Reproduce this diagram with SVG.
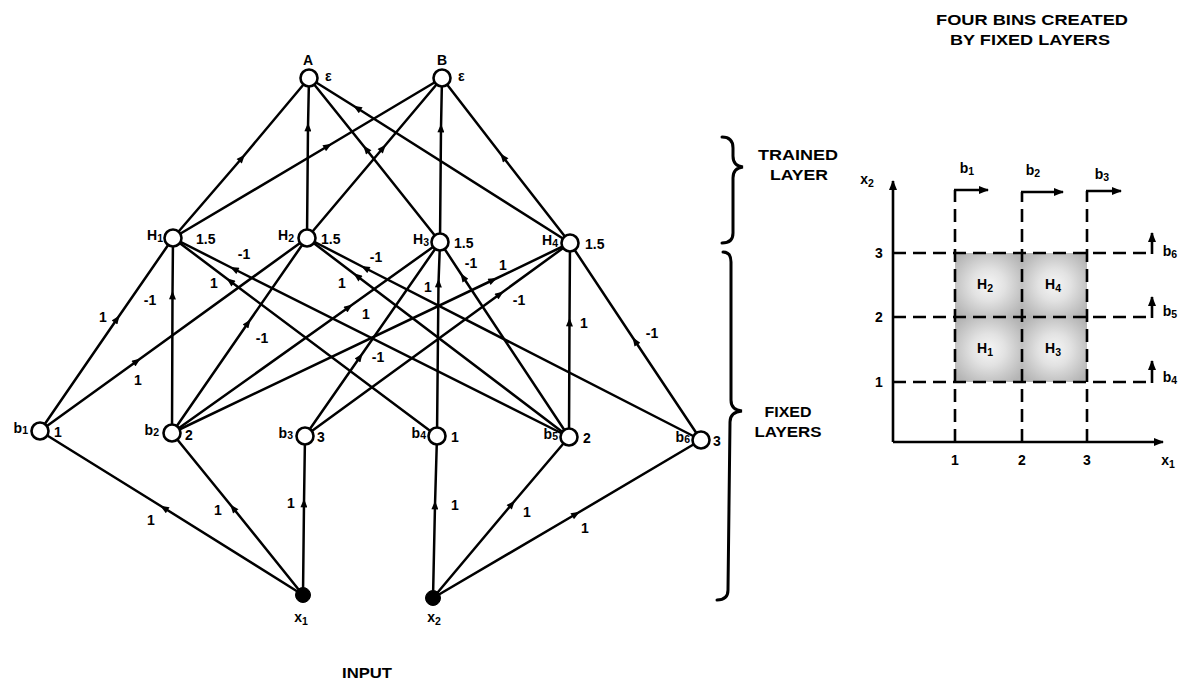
<svg xmlns="http://www.w3.org/2000/svg" width="1183" height="682" viewBox="0 0 1183 682">
<style>
text{font-family:"Liberation Sans",Arial,sans-serif;font-weight:bold;font-size:14px;fill:#000}
.e{stroke:#000;stroke-width:2.5;fill:none;marker-mid:url(#ah)}
.n{fill:#fff;stroke:#000;stroke-width:2.6}
.in{fill:#000;stroke:#000;stroke-width:1}
.d{stroke:#000;stroke-width:2.6;stroke-dasharray:13 7;fill:none}
.s{stroke:#000;stroke-width:2.6;fill:none}
.br{stroke:#000;stroke-width:3;fill:none;stroke-linecap:round}
.sub{font-size:10.5px}
</style>
<defs>
<marker id="ah" viewBox="0 0 10 8" refX="5" refY="4" markerWidth="10" markerHeight="7" orient="auto" markerUnits="userSpaceOnUse"><path d="M0,0 L10,4 L0,8 z" fill="#000"/></marker>
<marker id="ga" viewBox="0 0 10 8" refX="9" refY="4" markerWidth="12" markerHeight="8" orient="auto" markerUnits="userSpaceOnUse"><path d="M0,0 L10,4 L0,8 z" fill="#000"/></marker>
<radialGradient id="stip" cx="0.5" cy="0.5" r="0.62">
<stop offset="0" stop-color="#f6f6f6"/>
<stop offset="0.4" stop-color="#e2e2e2"/>
<stop offset="1" stop-color="#b4b4b4"/>
</radialGradient>
</defs>
<rect width="1183" height="682" fill="#fff"/>

<g id="connectors">
<path class="e" d="M173,238 L242,158 L309,78"/>
<path class="e" d="M173,238 L328,146 L442,78"/>
<path class="e" d="M307,238 L308,127 L309,78"/>
<path class="e" d="M307,238 L383,148 L442,78"/>
<path class="e" d="M440,242 L366,149 L309,78"/>
<path class="e" d="M440,242 L441,128 L442,78"/>
<path class="e" d="M570,243 L357,108 L309,78"/>
<path class="e" d="M570,243 L503,157 L442,78"/>

<path class="e" d="M40,431 L117,319 L173,238"/>
<path class="e" d="M40,431 L137,361 L307,238"/>
<path class="e" d="M172,433 L172.5,295 L173,238"/>
<path class="e" d="M172,433 L248,323 L307,238"/>
<path class="e" d="M172,433 L349,307 L440,242"/>
<path class="e" d="M172,433 L493,280 L570,243"/>
<path class="e" d="M305,436 L360,357 L440,242"/>
<path class="e" d="M305,436 L500,294 L570,243"/>
<path class="e" d="M437,436 L230,281 L173,238"/>
<path class="e" d="M437,436 L438.5,283 L440,242"/>
<path class="e" d="M569,437 L234,269 L173,238"/>
<path class="e" d="M569,437 L357,276 L307,238"/>
<path class="e" d="M569,437 L463,277 L440,242"/>
<path class="e" d="M569,437 L569.5,322 L570,243"/>
<path class="e" d="M701,440 L365,268 L307,238"/>
<path class="e" d="M701,440 L635,341 L570,243"/>

<path class="e" d="M303,595 L164,508 L40,431"/>
<path class="e" d="M303,595 L233,508 L172,433"/>
<path class="e" d="M303,595 L304,503 L305,436"/>
<path class="e" d="M433,598 L435,505 L437,436"/>
<path class="e" d="M433,598 L512,504 L569,437"/>
<path class="e" d="M433,598 L576,514 L701,440"/>
</g>

<g id="weights">
<text x="103" y="322" text-anchor="middle">1</text>
<text x="138" y="385" text-anchor="middle">1</text>
<text x="150" y="305" text-anchor="middle">-1</text>
<text x="262" y="343" text-anchor="middle">-1</text>
<text x="366" y="319" text-anchor="middle">1</text>
<text x="503" y="270" text-anchor="middle">1</text>
<text x="378" y="362" text-anchor="middle">-1</text>
<text x="519" y="305" text-anchor="middle">-1</text>
<text x="214" y="288" text-anchor="middle">1</text>
<text x="428" y="292" text-anchor="middle">1</text>
<text x="244" y="259" text-anchor="middle">-1</text>
<text x="342" y="288" text-anchor="middle">1</text>
<text x="471" y="268" text-anchor="middle">-1</text>
<text x="584" y="328" text-anchor="middle">1</text>
<text x="376" y="262" text-anchor="middle">-1</text>
<text x="652" y="338" text-anchor="middle">-1</text>
<text x="151" y="525" text-anchor="middle">1</text>
<text x="218" y="515" text-anchor="middle">1</text>
<text x="291" y="508" text-anchor="middle">1</text>
<text x="455" y="510" text-anchor="middle">1</text>
<text x="527" y="517" text-anchor="middle">1</text>
<text x="585" y="533" text-anchor="middle">1</text>
</g>

<g id="node-A"><circle class="n" cx="309" cy="78" r="8.5"/><text x="308" y="65" text-anchor="middle">A</text><text x="325" y="81" font-size="15">ε</text></g>
<g id="node-B"><circle class="n" cx="442" cy="78" r="8.5"/><text x="442" y="65" text-anchor="middle">B</text><text x="458" y="81" font-size="15">ε</text></g>

<g id="node-H1"><circle class="n" cx="173" cy="238" r="8.5"/><text x="163" y="240" text-anchor="end">H<tspan class="sub" dy="2">1</tspan></text><text x="196" y="244">1.5</text></g>
<g id="node-H2"><circle class="n" cx="307" cy="238" r="8.5"/><text x="294" y="240" text-anchor="end">H<tspan class="sub" dy="2">2</tspan></text><text x="321" y="244">1.5</text></g>
<g id="node-H3"><circle class="n" cx="440" cy="242" r="8.5"/><text x="429" y="244" text-anchor="end">H<tspan class="sub" dy="2">3</tspan></text><text x="454" y="248">1.5</text></g>
<g id="node-H4"><circle class="n" cx="570" cy="243" r="8.5"/><text x="558" y="245" text-anchor="end">H<tspan class="sub" dy="2">4</tspan></text><text x="585" y="249">1.5</text></g>

<g id="node-b1"><circle class="n" cx="40" cy="431" r="8.5"/><text x="28" y="433" text-anchor="end">b<tspan class="sub" dy="1">1</tspan></text><text x="54" y="437">1</text></g>
<g id="node-b2"><circle class="n" cx="172" cy="433" r="8.5"/><text x="159" y="435" text-anchor="end">b<tspan class="sub" dy="1">2</tspan></text><text x="185" y="440">2</text></g>
<g id="node-b3"><circle class="n" cx="305" cy="436" r="8.5"/><text x="293" y="438" text-anchor="end">b<tspan class="sub" dy="1">3</tspan></text><text x="317" y="442">3</text></g>
<g id="node-b4"><circle class="n" cx="437" cy="436" r="8.5"/><text x="426" y="438" text-anchor="end">b<tspan class="sub" dy="1">4</tspan></text><text x="451" y="442">1</text></g>
<g id="node-b5"><circle class="n" cx="569" cy="437" r="8.5"/><text x="558" y="439" text-anchor="end">b<tspan class="sub" dy="1">5</tspan></text><text x="583" y="443">2</text></g>
<g id="node-b6"><circle class="n" cx="701" cy="440" r="8.5"/><text x="690" y="442" text-anchor="end">b<tspan class="sub" dy="1">6</tspan></text><text x="713" y="446">3</text></g>

<g id="node-x1"><circle class="in" cx="303" cy="595" r="7.5"/><text x="301" y="622" text-anchor="middle">x<tspan class="sub" dy="3">1</tspan></text></g>
<g id="node-x2"><circle class="in" cx="433" cy="598" r="7.5"/><text x="434" y="622" text-anchor="middle">x<tspan class="sub" dy="3">2</tspan></text></g>
<text x="367" y="678" text-anchor="middle" textLength="50" lengthAdjust="spacingAndGlyphs">INPUT</text>

<g id="braces">
<path class="br" d="M722,137 Q733,137 733,148 L733,156 Q733,166 743,167 Q733,168 733,178 L733,233 Q733,243 722,243"/>
<path class="br" d="M723,252 Q731,252 731,262 L731,400 Q731,410 742,411 Q730,412 730,422 L728,590 Q728,600 717,600"/>
<text x="798" y="160" text-anchor="middle" textLength="80" lengthAdjust="spacingAndGlyphs">TRAINED</text>
<text x="799" y="180" text-anchor="middle" textLength="58" lengthAdjust="spacingAndGlyphs">LAYER</text>
<text x="788" y="417" text-anchor="middle" textLength="47" lengthAdjust="spacingAndGlyphs">FIXED</text>
<text x="788" y="437" text-anchor="middle" textLength="67" lengthAdjust="spacingAndGlyphs">LAYERS</text>
</g>

<g id="bins-chart">
<text x="1032" y="25" text-anchor="middle" textLength="192" lengthAdjust="spacingAndGlyphs">FOUR BINS CREATED</text>
<text x="1030" y="45" text-anchor="middle" textLength="160" lengthAdjust="spacingAndGlyphs">BY FIXED LAYERS</text>

<rect x="955" y="253" width="67" height="64" fill="url(#stip)"/>
<rect x="1022" y="253" width="65" height="64" fill="url(#stip)"/>
<rect x="955" y="317" width="67" height="65" fill="url(#stip)"/>
<rect x="1022" y="317" width="65" height="65" fill="url(#stip)"/>

<path class="s" d="M893,442 L893,181" marker-end="url(#ga)"/>
<path class="s" d="M893,442 L1163,442" marker-end="url(#ga)"/>

<path class="d" d="M955,442 L955,190"/>
<path class="d" d="M1022,442 L1022,192"/>
<path class="d" d="M1087,442 L1087,191"/>
<path class="s" d="M954,190 L988,190" marker-end="url(#ga)"/>
<path class="s" d="M1021,192 L1063,192" marker-end="url(#ga)"/>
<path class="s" d="M1086,191 L1121,191" marker-end="url(#ga)"/>

<path class="d" d="M893,253 L1152,253"/>
<path class="d" d="M893,317 L1152,317"/>
<path class="d" d="M893,382 L1152,382"/>
<path class="s" d="M1152,254 L1152,233" marker-end="url(#ga)"/>
<path class="s" d="M1152,318 L1152,297" marker-end="url(#ga)"/>
<path class="s" d="M1152,383 L1152,361" marker-end="url(#ga)"/>

<text x="967" y="173" text-anchor="middle">b<tspan class="sub" dy="2">1</tspan></text>
<text x="1033" y="175" text-anchor="middle">b<tspan class="sub" dy="2">2</tspan></text>
<text x="1102" y="179" text-anchor="middle">b<tspan class="sub" dy="2">3</tspan></text>
<text x="1170" y="256" text-anchor="middle">b<tspan class="sub" dy="2">6</tspan></text>
<text x="1170" y="316" text-anchor="middle">b<tspan class="sub" dy="2">5</tspan></text>
<text x="1170" y="382" text-anchor="middle">b<tspan class="sub" dy="2">4</tspan></text>

<text x="867" y="184" text-anchor="middle">x<tspan class="sub" dy="3">2</tspan></text>
<text x="1168" y="465" text-anchor="middle">x<tspan class="sub" dy="3">1</tspan></text>
<text x="879" y="258" text-anchor="middle">3</text>
<text x="879" y="322" text-anchor="middle">2</text>
<text x="879" y="387" text-anchor="middle">1</text>
<text x="955" y="465" text-anchor="middle">1</text>
<text x="1022" y="465" text-anchor="middle">2</text>
<text x="1087" y="465" text-anchor="middle">3</text>

<text x="985" y="289" text-anchor="middle">H<tspan class="sub" dy="3">2</tspan></text>
<text x="1053" y="289" text-anchor="middle">H<tspan class="sub" dy="3">4</tspan></text>
<text x="985" y="353" text-anchor="middle">H<tspan class="sub" dy="3">1</tspan></text>
<text x="1053" y="353" text-anchor="middle">H<tspan class="sub" dy="3">3</tspan></text>
</g>
</svg>
